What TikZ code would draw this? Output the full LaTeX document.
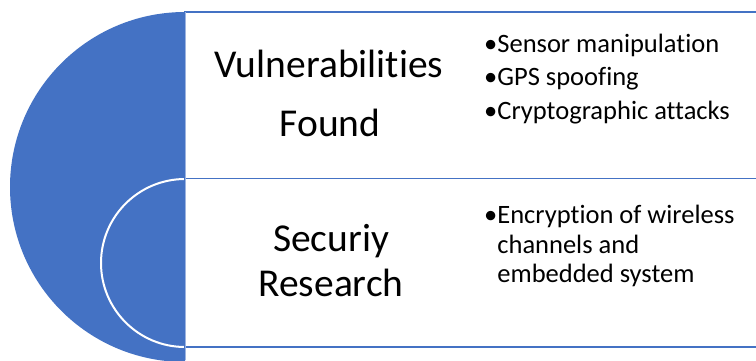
\documentclass[tikz,border=0pt]{standalone}
\usepackage{fontspec}
\setmainfont{Carlito}[Ligatures=NoCommon]
\definecolor{accent}{HTML}{4472C4}
\definecolor{seam}{HTML}{9DB4E0}
\begin{document}
\begin{tikzpicture}[x=1pt,y=-1pt,
  title/.style={font=\fontsize{39.5}{44}\selectfont, anchor=base, inner sep=0pt},
  item/.style={font=\fontsize{26.5}{30}\selectfont, anchor=base west, inner sep=0pt},
  panel/.style={draw=accent, fill=white, line width=1.5}]
\useasboundingbox (0,0) rectangle (756,360);
\clip (0,0) rectangle (756,360);
\fill[white] (0,0) rectangle (756,360);

% left half disc with the inner half ring
\begin{scope}
  \clip (0,0) rectangle (185,360);
  \fill[accent] (185,187) circle[radius=175];
  \draw[white, fill=accent, line width=2] (185,263) circle[radius=84];
\end{scope}

% the two panels
\draw[panel, line width=1.1] (185,12) rectangle (790,178.5);
\draw[panel, line width=1.7] (185,178.5) rectangle (790,347);
\draw[seam, line width=0.9] (185,12) -- (185,360);

% panel titles
\node[title] (vf1) at (329,77.3) {Vulnerabilities};
\node[title] (vf2) at (330,136) {Found};
\node[title] (sr1) at (331,251.7) {Securiy};
\node[title] (sr2) at (331,296.7) {Research};

% bullet lists
\node[item] (b1) at (484,52.3) {\textbullet Sensor manipulation};
\node[item] (b2) at (484,85.5) {\textbullet GPS spoofing};
\node[item] (b3) at (484,119) {\textbullet Cryptographic attacks};

\node[item] (e1) at (484,223.3) {\textbullet Encryption of wireless};
\node[item] (e2) at (484,253.3) {\phantom{\textbullet}channels and};
\node[item] (e3) at (484,282.3) {\phantom{\textbullet}embedded system};
\end{tikzpicture}
\end{document}
